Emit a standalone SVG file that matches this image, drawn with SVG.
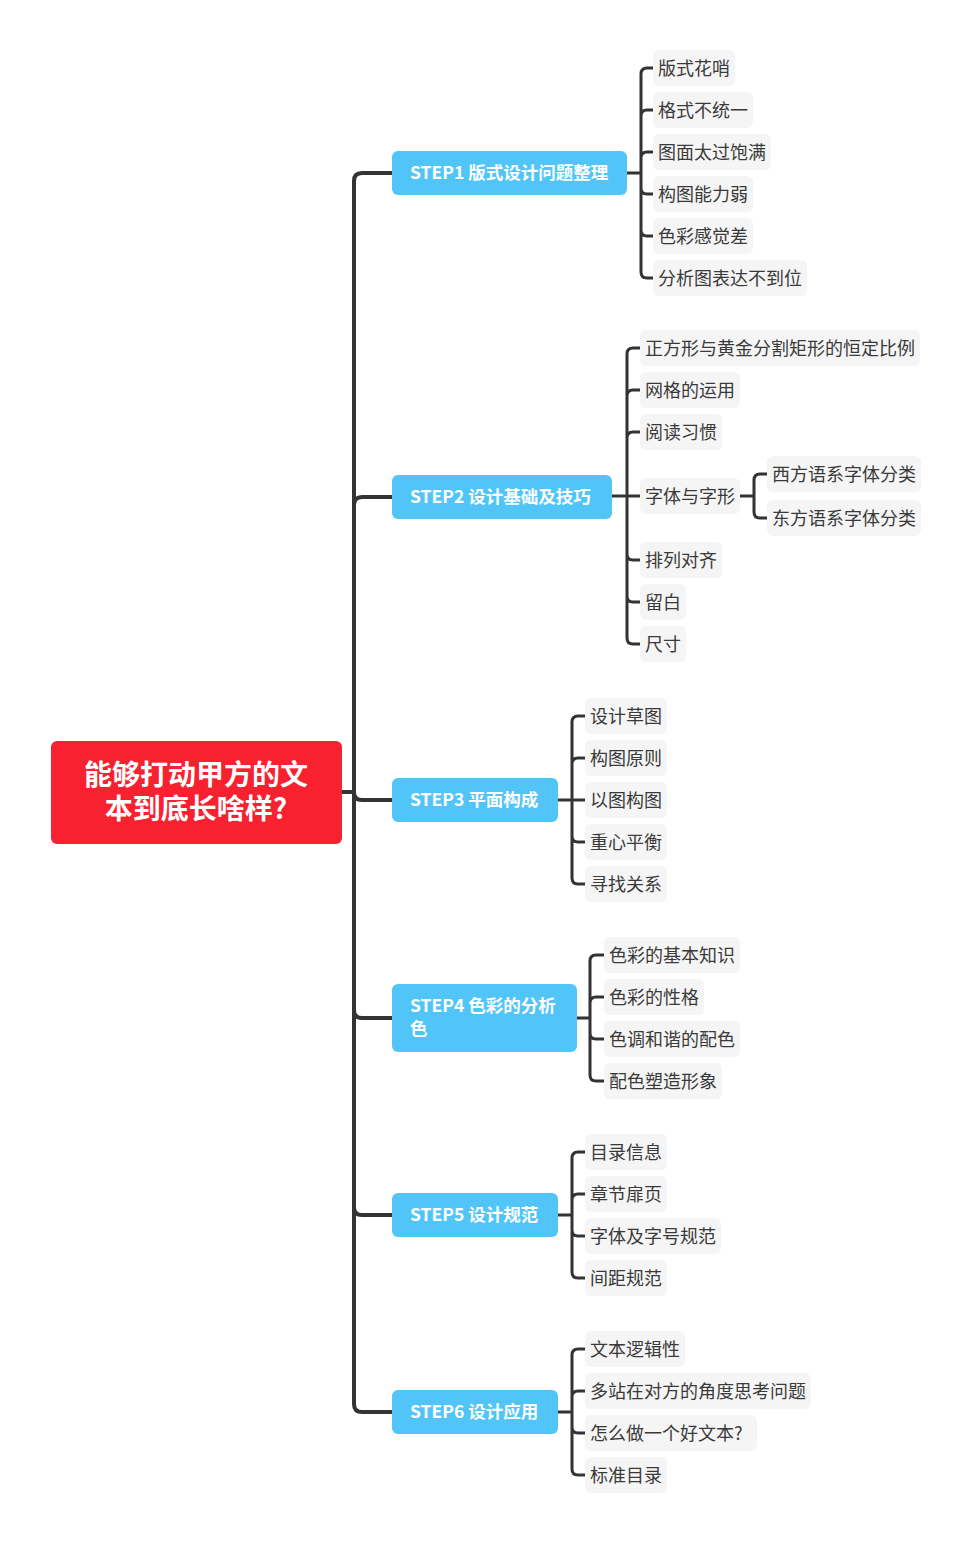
<svg xmlns="http://www.w3.org/2000/svg" width="973" height="1543" viewBox="0 0 973 1543">
<style>
.main{fill:none;stroke:#333;stroke-width:4}
.sub{fill:none;stroke:#333;stroke-width:3}
.root{fill:#F7212F}
.rt{font-family:"Noto Sans CJK SC","Noto Sans",sans-serif;font-weight:bold;font-size:28px;fill:#fff;text-anchor:middle}
.step{fill:#51C5F7}
.st{font-family:"Noto Sans CJK SC","Noto Sans",sans-serif;font-weight:bold;font-size:17.5px;fill:#fff}
.leaf{fill:#F5F5F5}
.lt{font-family:"Noto Sans CJK SC","Noto Sans",sans-serif;font-size:18px;fill:#3A3A3A}
</style>
<rect width="973" height="1543" fill="#fff"/>
<g id="connectors">
<path class="main" d="M342 792H354"/>
<path class="main" d="M354 792V181Q354 173 362 173H392"/>
<path class="main" d="M354 792V505Q354 497 362 497H392"/>
<path class="main" d="M354 792Q354 800 362 800H392"/>
<path class="main" d="M354 792V1010Q354 1018 362 1018H392"/>
<path class="main" d="M354 792V1207Q354 1215 362 1215H392"/>
<path class="main" d="M354 792V1404Q354 1412 362 1412H392"/>
<path class="sub" d="M627 173H641M641 173V74Q641 68 647 68H653M641 173V116Q641 110 647 110H653M641 173V158Q641 152 647 152H653M641 173V188Q641 194 647 194H653M641 173V230Q641 236 647 236H653M641 173V272Q641 278 647 278H653"/>
<path class="sub" d="M612 496H627H640M627 496V354Q627 348 633 348H640M627 496V396Q627 390 633 390H640M627 496V438Q627 432 633 432H640M627 496V554Q627 560 633 560H640M627 496V596Q627 602 633 602H640M627 496V638Q627 644 633 644H640"/>
<path class="sub" d="M740 496H754M754 496V480Q754 474 760 474H767M754 496V512Q754 518 760 518H767"/>
<path class="sub" d="M558 800H572H585M572 800V722Q572 716 578 716H585M572 800V764Q572 758 578 758H585M572 800V836Q572 842 578 842H585M572 800V878Q572 884 578 884H585"/>
<path class="sub" d="M577 1018H590M590 1018V961Q590 955 596 955H604M590 1018V1003Q590 997 596 997H604M590 1018V1033Q590 1039 596 1039H604M590 1018V1075Q590 1081 596 1081H604"/>
<path class="sub" d="M558 1215H572M572 1215V1158Q572 1152 578 1152H585M572 1215V1200Q572 1194 578 1194H585M572 1215V1230Q572 1236 578 1236H585M572 1215V1272Q572 1278 578 1278H585"/>
<path class="sub" d="M558 1412H572M572 1412V1355Q572 1349 578 1349H585M572 1412V1397Q572 1391 578 1391H585M572 1412V1427Q572 1433 578 1433H585M572 1412V1469Q572 1475 578 1475H585"/>
</g>
<g id="root">
<rect class="root" x="51" y="741" width="291" height="103" rx="6"/>
<text class="rt" x="196" y="785">能够打动甲方的文</text>
<text class="rt" x="196" y="819">本到底长啥样?</text>
</g>
<g id="step1">
<rect class="step" x="392" y="151" width="235" height="44" rx="6"/>
<text class="st" x="410" y="179">STEP1 版式设计问题整理</text>
</g>
<g id="step1-children">
<g id="n1-1"><rect class="leaf" x="653" y="50" width="82" height="36" rx="6"/><text class="lt" x="658" y="74.5">版式花哨</text></g>
<g id="n1-2"><rect class="leaf" x="653" y="92" width="100" height="36" rx="6"/><text class="lt" x="658" y="116.5">格式不统一</text></g>
<g id="n1-3"><rect class="leaf" x="653" y="134" width="118" height="36" rx="6"/><text class="lt" x="658" y="158.5">图面太过饱满</text></g>
<g id="n1-4"><rect class="leaf" x="653" y="176" width="100" height="36" rx="6"/><text class="lt" x="658" y="200.5">构图能力弱</text></g>
<g id="n1-5"><rect class="leaf" x="653" y="218" width="100" height="36" rx="6"/><text class="lt" x="658" y="242.5">色彩感觉差</text></g>
<g id="n1-6"><rect class="leaf" x="653" y="260" width="154" height="36" rx="6"/><text class="lt" x="658" y="284.5">分析图表达不到位</text></g>
</g>
<g id="step2">
<rect class="step" x="392" y="475" width="220" height="44" rx="6"/>
<text class="st" x="410" y="503">STEP2 设计基础及技巧</text>
</g>
<g id="step2-children">
<g id="n2-1"><rect class="leaf" x="640" y="330" width="280" height="36" rx="6"/><text class="lt" x="645" y="354.5">正方形与黄金分割矩形的恒定比例</text></g>
<g id="n2-2"><rect class="leaf" x="640" y="372" width="100" height="36" rx="6"/><text class="lt" x="645" y="396.5">网格的运用</text></g>
<g id="n2-3"><rect class="leaf" x="640" y="414" width="82" height="36" rx="6"/><text class="lt" x="645" y="438.5">阅读习惯</text></g>
<g id="n2-4"><rect class="leaf" x="640" y="478" width="100" height="36" rx="6"/><text class="lt" x="645" y="502.5">字体与字形</text></g>
<g id="n2-4-1"><rect class="leaf" x="767" y="456" width="154" height="36" rx="6"/><text class="lt" x="772" y="480.5">西方语系字体分类</text></g>
<g id="n2-4-2"><rect class="leaf" x="767" y="500" width="154" height="36" rx="6"/><text class="lt" x="772" y="524.5">东方语系字体分类</text></g>
<g id="n2-5"><rect class="leaf" x="640" y="542" width="82" height="36" rx="6"/><text class="lt" x="645" y="566.5">排列对齐</text></g>
<g id="n2-6"><rect class="leaf" x="640" y="584" width="46" height="36" rx="6"/><text class="lt" x="645" y="608.5">留白</text></g>
<g id="n2-7"><rect class="leaf" x="640" y="626" width="46" height="36" rx="6"/><text class="lt" x="645" y="650.5">尺寸</text></g>
</g>
<g id="step3">
<rect class="step" x="392" y="778" width="166" height="44" rx="6"/>
<text class="st" x="410" y="806">STEP3 平面构成</text>
</g>
<g id="step3-children">
<g id="n3-1"><rect class="leaf" x="585" y="698" width="82" height="36" rx="6"/><text class="lt" x="590" y="722.5">设计草图</text></g>
<g id="n3-2"><rect class="leaf" x="585" y="740" width="82" height="36" rx="6"/><text class="lt" x="590" y="764.5">构图原则</text></g>
<g id="n3-3"><rect class="leaf" x="585" y="782" width="82" height="36" rx="6"/><text class="lt" x="590" y="806.5">以图构图</text></g>
<g id="n3-4"><rect class="leaf" x="585" y="824" width="82" height="36" rx="6"/><text class="lt" x="590" y="848.5">重心平衡</text></g>
<g id="n3-5"><rect class="leaf" x="585" y="866" width="82" height="36" rx="6"/><text class="lt" x="590" y="890.5">寻找关系</text></g>
</g>
<g id="step4">
<rect class="step" x="392" y="984" width="185" height="68" rx="6"/>
<text class="st" x="410" y="1012">STEP4 色彩的分析</text>
<text class="st" x="410" y="1035">色</text>
</g>
<g id="step4-children">
<g id="n4-1"><rect class="leaf" x="604" y="937" width="136" height="36" rx="6"/><text class="lt" x="609" y="961.5">色彩的基本知识</text></g>
<g id="n4-2"><rect class="leaf" x="604" y="979" width="100" height="36" rx="6"/><text class="lt" x="609" y="1003.5">色彩的性格</text></g>
<g id="n4-3"><rect class="leaf" x="604" y="1021" width="136" height="36" rx="6"/><text class="lt" x="609" y="1045.5">色调和谐的配色</text></g>
<g id="n4-4"><rect class="leaf" x="604" y="1063" width="118" height="36" rx="6"/><text class="lt" x="609" y="1087.5">配色塑造形象</text></g>
</g>
<g id="step5">
<rect class="step" x="392" y="1193" width="166" height="44" rx="6"/>
<text class="st" x="410" y="1221">STEP5 设计规范</text>
</g>
<g id="step5-children">
<g id="n5-1"><rect class="leaf" x="585" y="1134" width="82" height="36" rx="6"/><text class="lt" x="590" y="1158.5">目录信息</text></g>
<g id="n5-2"><rect class="leaf" x="585" y="1176" width="82" height="36" rx="6"/><text class="lt" x="590" y="1200.5">章节扉页</text></g>
<g id="n5-3"><rect class="leaf" x="585" y="1218" width="136" height="36" rx="6"/><text class="lt" x="590" y="1242.5">字体及字号规范</text></g>
<g id="n5-4"><rect class="leaf" x="585" y="1260" width="82" height="36" rx="6"/><text class="lt" x="590" y="1284.5">间距规范</text></g>
</g>
<g id="step6">
<rect class="step" x="392" y="1390" width="166" height="44" rx="6"/>
<text class="st" x="410" y="1418">STEP6 设计应用</text>
</g>
<g id="step6-children">
<g id="n6-1"><rect class="leaf" x="585" y="1331" width="100" height="36" rx="6"/><text class="lt" x="590" y="1355.5">文本逻辑性</text></g>
<g id="n6-2"><rect class="leaf" x="585" y="1373" width="226" height="36" rx="6"/><text class="lt" x="590" y="1397.5">多站在对方的角度思考问题</text></g>
<g id="n6-3"><rect class="leaf" x="585" y="1415" width="172" height="36" rx="6"/><text class="lt" x="590" y="1439.5">怎么做一个好文本?</text></g>
<g id="n6-4"><rect class="leaf" x="585" y="1457" width="82" height="36" rx="6"/><text class="lt" x="590" y="1481.5">标准目录</text></g>
</g>
</svg>
